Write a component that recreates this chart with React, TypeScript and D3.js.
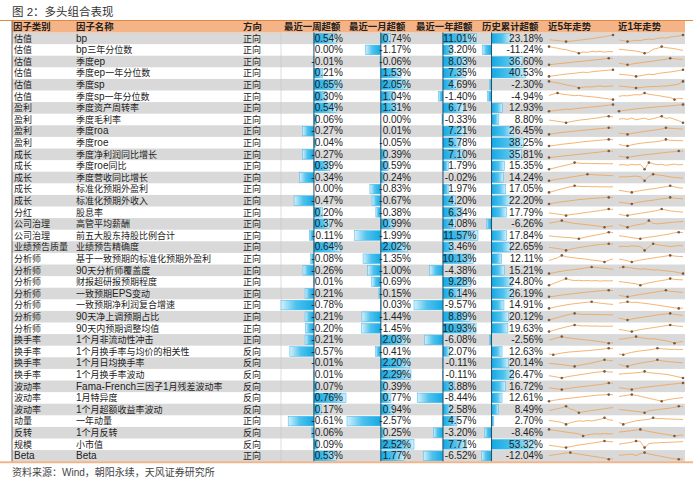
import React from "react";
import * as d3 from "d3";

const headers = ["因子类别", "因子名称", "方向", "最近一周超额", "最近一月超额", "最近一年超额", "历史累计超额", "近5年走势", "近1年走势"];

const categories = ["估值","估值","估值","估值","估值","估值","盈利","盈利","盈利","盈利","成长","成长","成长","成长","成长","分红","公司治理","公司治理","业绩预告质量","分析师","分析师","分析师","分析师","分析师","分析师","分析师","换手率","换手率","换手率","换手率","波动率","波动率","波动率","动量","反转","规模","Beta"];

const factorNames = ["bp","bp三年分位数","季度ep","季度ep一年分位数","季度sp","季度sp一年分位数","季度资产周转率","季度毛利率","季度roa","季度roe","季度净利润同比增长","季度roe同比","季度营收同比增长","标准化预期外盈利","标准化预期外收入","股息率","高管平均薪酬","前五大股东持股比例合计","业绩预告精确度","基于一致预期的标准化预期外盈利","90天分析师覆盖度","财报超研报预期程度","一致预期EPS变动","一致预期净利润复合增速","90天净上调预期占比","90天内预期调整均值","1个月非流动性冲击","1个月换手率与均价的相关性","1个月日均换手率","1个月换手率波动","Fama-French三因子1月残差波动率","1月特异度","1个月超额收益率波动","一年动量","1个月反转","小市值","Beta"];

const directions = ["正向","正向","正向","正向","正向","正向","正向","正向","正向","正向","正向","正向","正向","正向","正向","正向","正向","正向","正向","正向","正向","正向","正向","正向","正向","正向","正向","反向","反向","反向","反向","反向","反向","正向","反向","反向","正向"];

const weekExcess = [0.54,0.00,-0.01,0.21,0.65,0.30,0.54,0.06,-0.27,0.04,-0.27,0.39,-0.34,0.00,-0.47,0.20,0.37,-0.11,0.64,-0.08,-0.26,0.01,-0.21,-0.78,-0.21,-0.20,-0.21,-0.57,-0.01,0.01,0.07,0.76,0.17,-0.61,-0.06,0.09,0.53];
const monthExcess = [0.74,-1.17,-0.06,1.53,2.05,1.04,1.31,0.00,0.01,-0.05,0.39,0.59,0.24,-0.83,-0.67,-0.38,0.99,-1.99,2.02,-1.35,-1.00,-0.69,-0.15,0.03,-1.44,-1.45,2.03,-0.41,2.20,2.29,0.39,0.77,0.94,-2.57,0.25,2.52,1.77];
const yearExcess = [11.01,3.20,8.03,7.35,4.69,-1.40,6.71,-0.33,7.21,5.78,7.10,1.79,-0.02,1.97,4.20,6.34,4.08,11.57,3.46,10.13,-4.38,9.28,6.14,-9.57,8.89,10.93,-6.08,2.07,-0.11,-0.11,3.88,-8.44,2.58,4.57,-3.20,7.71,-6.52];
const cumulativeExcess = [23.18,-11.24,36.60,40.53,-2.30,-4.94,12.93,8.80,26.45,38.25,35.81,15.35,14.24,17.05,22.20,17.79,-6.26,17.84,22.65,12.11,15.21,24.80,26.19,14.91,20.12,19.63,-2.56,12.63,20.14,26.47,16.72,12.61,8.49,2.70,-8.46,53.32,-12.04];

const trend5y: number[][] = [
  [5.2,4.9,4.5,4.1,3.6,4.0,4.3,4.9,5.3,5.8,6.2,6.9,7.4,8.0,8.7,9.5],
  [9.5,8.6,8.0,7.1,6.6,5.4,4.6,3.2,4.4,4.0,5.1,4.5,4.9,4.2,4.8,4.6],
  [1.0,1.6,2.3,2.8,3.4,3.9,4.5,5.0,5.5,6.1,6.6,7.2,7.8,8.4,9.2,8.9],
  [1.0,1.8,2.6,3.3,3.9,4.6,5.0,5.8,6.4,6.0,6.9,7.5,8.0,8.6,9.0,9.5],
  [9.2,8.4,7.8,6.9,6.0,5.2,4.6,3.0,3.8,4.2,4.0,4.6,4.9,4.4,4.7,4.9],
  [6.5,8.0,9.2,8.0,7.4,6.8,6.2,6.6,5.8,5.4,5.0,4.4,3.8,3.2,2.6,1.8],
  [1.2,1.8,2.5,3.0,3.8,3.5,4.2,4.9,5.4,6.0,6.5,7.0,7.6,8.2,8.8,9.5],
  [5.0,4.4,3.6,3.0,2.0,3.2,4.0,4.8,5.4,5.8,6.6,7.0,7.8,8.6,9.2,8.4],
  [1.0,2.0,2.8,3.5,4.0,4.6,5.2,5.6,6.2,6.8,7.3,7.8,8.3,8.8,9.4,9.0],
  [1.0,1.6,2.4,3.2,3.8,4.4,5.0,5.8,6.4,6.9,7.4,8.0,8.5,9.0,9.5,9.2],
  [1.0,1.5,2.2,2.8,3.5,4.0,4.6,5.2,5.8,6.4,7.0,7.6,8.2,8.9,9.5,9.2],
  [1.0,2.2,3.6,4.8,6.0,7.2,9.3,8.6,8.2,8.4,8.0,8.2,7.8,8.0,7.8,7.9],
  [1.0,2.0,3.0,3.8,4.6,5.6,6.4,7.2,8.0,9.3,8.8,8.4,8.2,8.0,7.6,7.4],
  [1.0,2.4,4.0,5.4,6.8,8.0,9.2,8.6,8.2,8.4,8.0,8.2,7.8,8.0,7.8,8.0],
  [1.0,2.0,3.0,3.8,4.4,5.2,5.8,6.6,7.0,7.6,8.0,8.4,8.8,9.0,9.4,9.1],
  [4.5,4.0,3.2,2.6,1.4,2.6,3.2,3.8,4.6,5.2,6.0,6.6,7.4,8.2,9.2,8.6],
  [6.0,7.0,8.0,9.3,7.6,6.6,5.8,5.2,4.6,4.0,3.4,2.8,2.0,1.0,2.0,2.6],
  [5.0,4.2,3.8,3.2,3.0,2.6,2.0,1.2,2.6,3.8,4.8,5.8,6.8,7.8,9.4,9.0],
  [5.0,4.4,3.6,2.8,1.4,2.8,3.8,4.8,5.6,6.4,7.2,7.8,8.4,8.8,9.3,8.8],
  [3.0,4.6,6.2,9.3,7.6,6.8,6.2,5.6,5.0,4.4,3.6,3.0,2.2,1.0,3.2,5.0],
  [1.0,2.0,3.2,4.0,4.8,5.6,6.2,6.8,7.6,8.4,9.3,8.6,8.2,7.6,7.0,6.4],
  [1.0,3.0,5.0,7.0,9.3,7.6,6.8,7.2,6.6,7.0,6.4,6.8,6.2,6.6,6.4,6.6],
  [1.0,1.6,2.4,3.2,3.8,4.6,5.2,5.8,6.4,7.0,7.6,8.2,8.6,9.0,9.4,9.0],
  [1.0,2.2,3.4,4.4,5.4,6.2,7.0,7.6,8.2,8.8,9.3,8.4,7.6,7.0,6.4,6.0],
  [1.0,2.6,4.2,5.6,7.0,8.2,9.3,8.4,8.0,8.2,7.8,8.0,7.6,7.8,7.4,7.6],
  [1.0,2.4,4.0,5.4,6.8,8.0,9.2,8.6,8.0,8.2,7.8,8.0,7.6,7.8,7.6,7.8],
  [5.0,6.4,7.8,9.3,8.0,7.4,6.8,6.2,5.6,5.0,4.4,3.8,3.0,2.2,1.2,1.8],
  [2.0,1.0,2.2,3.2,4.0,4.6,5.0,5.4,5.8,6.2,6.8,7.2,7.8,8.4,9.3,9.0],
  [5.0,4.4,4.0,3.4,2.6,2.0,1.2,2.4,3.4,4.4,5.4,6.6,7.8,9.3,8.6,8.0],
  [4.0,3.2,2.2,1.2,2.4,3.4,4.2,5.0,5.8,6.6,7.4,8.2,8.8,9.3,8.6,8.4],
  [3.4,2.6,2.0,1.2,2.2,3.0,3.8,4.4,5.0,5.6,6.2,6.8,7.4,8.2,9.3,9.0],
  [1.0,2.0,2.8,3.6,4.2,4.8,5.4,6.0,6.6,7.2,7.8,8.4,8.8,9.0,9.3,9.0],
  [4.0,5.0,6.2,7.4,9.3,6.0,4.4,1.2,2.4,3.2,4.0,4.6,5.4,6.2,7.0,7.6],
  [6.0,5.4,4.6,3.6,1.2,3.2,4.6,5.6,5.0,6.0,5.4,6.4,7.4,9.3,6.8,6.2],
  [9.3,8.4,7.6,6.8,6.0,5.2,4.6,3.8,1.2,2.6,3.4,4.0,3.6,4.2,3.8,4.0],
  [4.0,3.2,2.4,1.6,1.0,2.2,3.2,4.2,5.0,5.8,6.6,7.4,8.2,9.3,8.6,8.2],
  [5.6,6.4,7.2,8.0,8.8,9.3,8.2,7.4,6.6,5.8,5.0,4.2,3.4,2.6,1.2,1.8],
];

const trend1y: number[][] = [
  [4.5,3.8,3.0,3.6,4.2,4.0,4.8,5.3,5.0,5.9,6.4,6.2,7.1,7.6,8.2,9.0],
  [6.5,6.2,5.8,5.5,5.0,4.4,3.4,4.0,6.5,7.2,8.6,7.8,7.4,7.0,6.2,5.6],
  [3.5,3.0,2.0,2.8,3.6,4.2,4.9,5.5,6.0,6.8,7.4,8.0,9.2,8.6,8.2,8.0],
  [5.0,4.6,4.2,3.6,2.8,3.4,4.2,5.0,4.6,5.6,6.2,6.8,7.2,7.9,8.6,9.4],
  [4.5,4.2,3.8,3.2,2.6,3.0,3.6,3.9,4.2,4.0,4.6,4.4,5.2,5.8,6.6,9.2],
  [5.5,6.2,6.0,6.8,7.2,7.0,9.0,7.6,7.0,6.4,5.6,4.8,4.2,2.0,3.4,3.0],
  [1.5,2.3,3.0,3.6,4.2,4.8,5.2,5.8,6.2,6.6,7.0,7.4,7.8,8.3,8.8,9.3],
  [6.5,7.0,6.2,7.6,5.8,6.8,7.4,6.0,7.0,8.0,9.3,7.2,7.8,6.4,5.0,3.0],
  [3.0,2.4,1.5,2.6,3.4,4.2,5.0,5.6,6.4,7.0,7.8,9.2,8.6,8.4,8.0,7.8],
  [3.2,2.0,1.4,2.8,3.8,4.6,5.2,5.8,6.2,6.8,7.6,9.3,8.2,8.0,7.8,7.6],
  [3.0,2.2,1.2,2.4,3.2,4.0,4.6,5.2,5.8,6.4,7.0,7.6,8.2,8.6,9.4,9.0],
  [6.5,6.8,6.2,7.0,6.6,7.2,1.5,9.2,7.8,6.8,7.2,6.0,6.8,7.4,6.6,7.0],
  [6.0,6.4,6.2,6.8,7.0,6.4,1.8,6.6,9.2,8.4,7.8,7.0,6.2,5.6,5.2,4.8],
  [4.0,3.2,2.4,1.6,2.8,3.6,4.4,5.2,5.8,6.6,7.4,8.2,9.2,8.0,7.0,6.4],
  [3.6,3.0,2.2,1.4,3.0,3.8,4.6,5.4,6.0,6.8,7.6,8.2,9.3,8.4,8.0,7.6],
  [3.0,2.0,1.5,2.6,3.4,4.2,5.0,5.8,6.6,7.4,9.2,8.0,7.0,6.4,6.0,5.6],
  [4.6,2.8,1.6,3.0,4.2,5.0,5.6,9.2,6.0,5.4,6.0,6.4,7.0,7.4,7.8,8.2],
  [5.0,4.4,3.6,2.8,2.0,1.4,2.6,3.4,4.0,4.8,5.6,6.4,7.4,8.6,9.3,8.8],
  [6.0,6.4,6.0,6.8,6.4,6.2,1.6,5.6,9.2,8.0,7.4,6.8,6.0,6.6,7.2,6.8],
  [5.0,4.0,3.0,1.5,2.8,3.8,4.6,5.4,6.2,7.0,7.6,8.4,9.2,8.4,8.0,7.8],
  [8.0,9.2,8.6,8.0,7.2,6.6,7.0,6.2,5.6,5.8,5.0,4.6,4.0,3.4,2.2,1.2],
  [5.8,5.2,4.6,3.8,3.0,1.5,3.0,4.2,5.2,6.2,7.0,7.8,9.3,8.4,8.0,7.8],
  [3.0,2.2,1.4,2.4,3.4,4.2,5.0,5.8,6.6,7.4,8.2,9.3,8.0,7.6,7.0,6.6],
  [7.6,8.4,9.3,8.6,8.8,8.0,7.4,6.8,6.0,5.2,4.4,3.6,2.8,2.0,1.2,1.6],
  [3.6,2.4,1.2,2.4,3.4,4.2,5.0,5.8,6.6,7.4,8.0,8.6,9.3,8.0,7.4,7.0],
  [3.8,3.0,2.0,1.2,2.6,3.6,4.4,5.2,6.0,6.8,7.6,8.4,9.2,8.4,7.8,7.4],
  [6.0,6.6,7.4,8.0,9.2,8.0,7.2,6.4,6.8,6.0,5.2,4.2,3.2,1.4,2.8,3.4],
  [2.2,1.2,3.0,4.2,5.2,6.0,6.6,7.2,7.8,9.3,8.6,8.2,7.8,8.0,7.6,7.8],
  [3.8,2.0,1.2,3.0,4.2,5.2,6.2,7.0,7.6,9.3,8.0,7.4,6.8,6.4,6.0,5.6],
  [6.0,6.4,6.8,7.2,7.6,8.0,9.3,7.8,7.2,6.8,6.2,5.6,4.8,3.6,2.4,1.2],
  [3.6,2.8,2.0,1.2,2.4,3.2,4.0,4.6,5.2,5.8,6.4,7.0,7.6,8.2,8.8,9.3],
  [7.0,7.8,8.6,9.3,8.4,7.2,6.0,4.8,3.6,2.4,1.2,2.6,3.6,4.4,5.0,5.6],
  [5.2,4.8,4.2,3.6,3.0,2.4,1.2,3.6,4.4,5.0,5.8,6.4,7.0,7.8,9.3,8.8],
  [3.6,1.2,3.0,4.4,5.6,6.2,6.8,7.4,9.3,8.2,8.4,8.0,7.8,7.6,7.4,7.2],
  [6.0,6.6,7.2,7.8,8.4,9.3,7.8,6.8,5.8,4.8,4.0,3.2,2.4,1.2,2.0,2.4],
  [5.4,6.2,7.0,7.8,9.3,8.8,1.2,6.0,6.8,7.0,7.4,7.6,7.8,8.0,8.2,8.6],
  [6.0,6.4,7.0,7.4,5.6,8.0,9.3,7.6,6.6,5.6,4.6,3.6,2.6,1.8,1.2,1.6],
];

const CJK = /([\u3000-\u303f\u4e00-\u9fff\uff00-\uffef]+)/;
const LATIN_FONT = "'Liberation Sans', Arial, sans-serif";
const CJK_FONT = "'Noto Sans CJK SC', sans-serif";

function Mixed({ x, y, text, latin = 10, cjk = 9, weight = 400, fill = "#222", anchor = "start" }: any) {
  const parts = text.split(CJK).filter((s: string) => s.length > 0);
  return (
    <text x={x} y={y} fill={fill} fontWeight={weight} textAnchor={anchor}>
      {parts.map((p: string, i: number) =>
        CJK.test(p) ? (
          <tspan key={i} fontFamily={CJK_FONT} fontSize={cjk}>{p}</tspan>
        ) : (
          <tspan key={i} fontFamily={LATIN_FONT} fontSize={latin}>{p}</tspan>
        )
      )}
    </text>
  );
}

const fmt = (v: number) => v.toFixed(2) + "%";

export default function App() {
  const W = 700, H = 486;
  const n = categories.length;
  const top = 32.5, rowH = 11.6;
  const tableL = 12, tableR = 685;
  const y = d3.scaleBand<number>().domain(d3.range(n)).range([top, top + n * rowH]).paddingInner(0);

  const barCols = [
    { data: weekExcess, range: [281, 346], textX: 343 },
    { data: monthExcess, range: [347, 414], textX: 411 },
    { data: yearExcess, range: [414, 478], textX: 476.5 },
    { data: cumulativeExcess, range: [481.5, 536], textX: 543 },
  ].map((c) => ({
    ...c,
    scale: d3.scaleLinear().domain(d3.extent(c.data) as [number, number]).range(c.range),
  }));

  const sparkCols = [
    { data: trend5y, range: [549, 613] },
    { data: trend1y, range: [619, 683] },
  ];

  const headerX = [13, 76, 243, 284, 349, 416, 482, 548, 618];
  const bottom = top + n * rowH;

  return (
    <svg width={W} height={H} style={{ position: "absolute", left: 0, top: 0, background: "#fff" }}>
      <defs>
        <linearGradient id="gpos" x1="0" x2="1" y1="0" y2="0">
          <stop offset="0" stopColor="#14a9e4" />
          <stop offset="0.55" stopColor="#4fc2ee" />
          <stop offset="1" stopColor="#d4f0fb" />
        </linearGradient>
        <linearGradient id="gneg" x1="1" x2="0" y1="0" y2="0">
          <stop offset="0" stopColor="#14a9e4" />
          <stop offset="0.55" stopColor="#4fc2ee" />
          <stop offset="1" stopColor="#d4f0fb" />
        </linearGradient>
      </defs>

      <Mixed x={12} y={16} text="图 2：多头组合表现" latin={11.5} cjk={11.5} fill="#333" />

      {/* row backgrounds */}
      {d3.range(n).map((i) =>
        i % 2 === 0 ? (
          <rect key={i} x={tableL} y={y(i)!} width={tableR - tableL} height={rowH} fill="#d9d9d9" />
        ) : null
      )}

      {/* header */}
      <rect x={tableL} y={21} width={tableR - tableL} height={top - 21} fill="#f5b487" />
      <line x1={0} x2={693} y1={20.5} y2={20.5} stroke="#e4873f" strokeWidth={1.2} />
      {headers.map((h, i) => (
        <Mixed key={i} x={headerX[i]} y={30} text={h} latin={10} cjk={9.4} weight={700} fill="#222" />
      ))}

      {/* column separator */}
      <line x1={281} x2={281} y1={top} y2={bottom} stroke="#c8c8c8" strokeWidth={0.6} />

      {/* bars */}
      {barCols.map((c, ci) => (
        <g key={ci}>
          {c.data.map((v, i) => {
            const x0 = c.scale(0), x1 = c.scale(v);
            if (Math.abs(x1 - x0) < 0.2) return null;
            return (
              <rect
                key={i}
                x={Math.min(x0, x1)}
                y={y(i)! + 1}
                width={Math.abs(x1 - x0)}
                height={rowH - 2}
                fill={v >= 0 ? "url(#gpos)" : "url(#gneg)"}
                stroke="#3db6e8"
                strokeWidth={0.5}
              />
            );
          })}
          <line x1={c.scale(0)} x2={c.scale(0)} y1={top} y2={bottom} stroke="#23506f" strokeWidth={1} />
        </g>
      ))}

      {/* sparklines */}
      {sparkCols.map((c, ci) => (
        <g key={ci}>
          {c.data.map((series, i) => {
            const sx = d3.scaleLinear().domain([0, series.length - 1]).range(c.range);
            const ext = d3.extent(series) as [number, number];
            const sy = d3.scaleLinear().domain(ext).range([y(i)! + rowH - 2.5, y(i)! + 2.5]);
            const line = d3.line<number>().x((_, k) => sx(k)).y((d) => sy(d)).curve(d3.curveLinear);
            const hi = d3.maxIndex(series), lo = d3.minIndex(series);
            return (
              <g key={i}>
                <path d={line(series)!} fill="none" stroke="#f0a24f" strokeWidth={0.9} strokeOpacity={0.9} />
                <circle cx={sx(hi)} cy={sy(series[hi])} r={1.3} fill="#7a5a44" />
                <circle cx={sx(lo)} cy={sy(series[lo])} r={1.3} fill="#7a5a44" />
              </g>
            );
          })}
        </g>
      ))}

      {/* text cells */}
      {d3.range(n).map((i) => {
        const by = y(i)! + 9;
        return (
          <g key={i}>
            <Mixed x={14} y={by} text={categories[i]} latin={10} cjk={9} />
            <Mixed x={76} y={by} text={factorNames[i]} latin={10} cjk={9} />
            <Mixed x={243} y={by} text={directions[i]} latin={10} cjk={9} />
            {barCols.map((c, ci) => (
              <text key={ci} x={c.textX} y={by} textAnchor="end" fontFamily={LATIN_FONT} fontSize={10} fill="#222">
                {fmt(c.data[i])}
              </text>
            ))}
          </g>
        );
      })}

      {/* borders */}
      <line x1={tableL} x2={tableL} y1={21} y2={bottom} stroke="#444" strokeWidth={0.8} />
      <line x1={0} x2={693} y1={bottom + 0.5} y2={bottom + 0.5} stroke="#f2b48a" strokeWidth={2} />

      <Mixed x={12} y={476} text="资料来源：Wind，朝阳永续，天风证券研究所" latin={10} cjk={10} fill="#444" />
    </svg>
  );
}
